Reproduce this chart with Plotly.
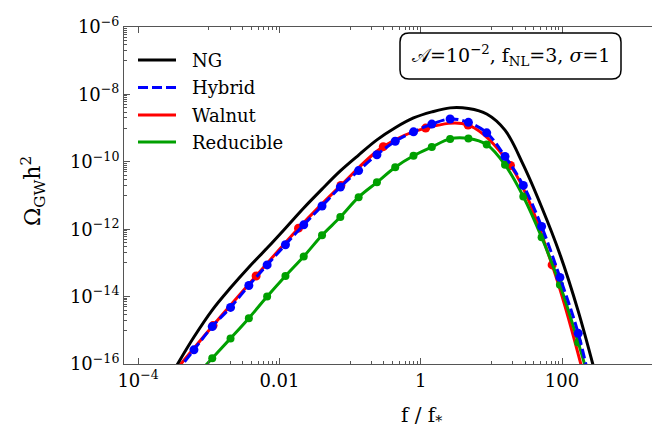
import plotly.graph_objects as go

# ---- data (log10 values) ----
log_f_grid = [-3.469, -3.21, -2.951, -2.692, -2.433, -2.174, -1.915, -1.656, -1.397, -1.138,
              -0.879, -0.62, -0.361, -0.102, 0.157, 0.416, 0.675, 0.934, 1.193, 1.452,
              1.711, 1.97, 2.229, 2.488]
log_ng = [-16.1, -15.2, -14.40, -13.74, -13.13, -12.56, -11.97, -11.37, -10.81, -10.27,
          -9.80, -9.35, -8.99, -8.70, -8.52, -8.40, -8.42, -8.58, -9.06, -10.09,
          -11.34, -12.74, -14.43, -16.42]
log_hybrid = [-16.27, -15.58, -14.89, -14.32, -13.67, -13.06, -12.46, -11.87, -11.31, -10.75,
              -10.26, -9.79, -9.39, -9.11, -8.88, -8.73, -8.83, -9.14, -9.84, -10.70,
              -11.92, -13.43, -15.09, -17.45]
log_f_red = [-3.54, -2.94, -2.33, -1.73, -1.13, -0.53, 0.07, 0.67, 1.27, 1.86, 2.46]
log_walnut = [-16.37, -14.86, -13.39, -11.97, -10.70, -9.55, -9.00, -8.91, -10.11, -13.06, -17.6]
log_f_green = log_f_grid[1:]
log_reducible = [-16.42, -15.83, -15.24, -14.64, -14.00, -13.39, -12.81, -12.18, -11.64, -11.05,
                 -10.61, -10.16, -9.82, -9.56, -9.32, -9.31, -9.49, -10.09, -11.03, -12.24,
                 -13.65, -15.36, -17.26]

x_tickvals = [1e-4, 1e-2, 1, 100]
x_ticktext = ["10<sup>\u22124</sup>", "0.01", "1", "100"]
y_exps = [-6, -8, -10, -12, -14, -16]

legend_names = ["NG", "Hybrid", "Walnut", "Reducible"]
colors = {"NG": "#000000", "Hybrid": "#0000ff", "Walnut": "#ff0000", "Reducible": "#00a000"}

def p(v):
    return [10 ** a for a in v]

FONT = "DejaVu Serif"
W, H = 660, 430
L, R, T, B = 116, 0, 19, 74
PW, PH = W - L - R, H - T - B

def px(xp):
    return (xp - L) / PW

def py(yp):
    return (H - B - yp) / PH

fig = go.Figure()
fig.add_trace(go.Scatter(x=p(log_f_red), y=p(log_walnut), mode="lines+markers",
                         line=dict(color=colors["Walnut"], width=3, shape="spline"),
                         marker=dict(size=9, color=colors["Walnut"]), showlegend=False))
fig.add_trace(go.Scatter(x=p(log_f_green), y=p(log_reducible), mode="lines+markers",
                         line=dict(color=colors["Reducible"], width=3, shape="spline"),
                         marker=dict(size=8, color=colors["Reducible"]), showlegend=False))
fig.add_trace(go.Scatter(x=p(log_f_grid), y=p(log_hybrid), mode="lines+markers",
                         line=dict(color=colors["Hybrid"], width=3, dash="10px,4px", shape="spline"),
                         marker=dict(size=9, color=colors["Hybrid"]), showlegend=False))
fig.add_trace(go.Scatter(x=p(log_f_grid), y=p(log_ng), mode="lines",
                         line=dict(color=colors["NG"], width=3, shape="spline"), showlegend=False))

x_minor = [m * 10 ** k for k in (-3, -1, 1) for m in range(1, 10)]
y_minor = [m * 10.0 ** (k - 1) for k in (-6, -8, -10, -12, -14) for m in range(1, 10)]

axis_common = dict(type="log", showgrid=False, zeroline=False, showline=True,
                   linecolor="#555555", linewidth=1, ticks="inside", ticklen=6,
                   tickcolor="#555555", tickfont=dict(family=FONT, size=18, color="black"))

fig.update_xaxes(range=[-4.2, 3.5], tickvals=x_tickvals, ticktext=x_ticktext, mirror="ticks",
                 minor=dict(tickvals=x_minor, ticks="inside", ticklen=3, tickcolor="#555555"),
                 **axis_common)
fig.update_yaxes(range=[-16, -6], tickvals=[10.0 ** e for e in y_exps],
                 ticktext=["10<sup>\u2212%d</sup>" % (-e) for e in y_exps], mirror=False,
                 minor=dict(tickvals=y_minor, ticks="inside", ticklen=3, tickcolor="#555555"),
                 **axis_common)

shapes = []
annotations = []

# legend
leg_rows = [52, 79.5, 107, 134]
for name, yr in zip(legend_names, leg_rows):
    shapes.append(dict(type="line", xref="paper", yref="paper", x0=px(130), x1=px(168),
                       y0=py(yr), y1=py(yr),
                       line=dict(color=colors[name], width=3,
                                 dash="10px,4px" if name == "Hybrid" else "solid")))
    annotations.append(dict(xref="paper", yref="paper", x=px(182), y=py(yr), text=name,
                            showarrow=False, xanchor="left", yanchor="middle",
                            font=dict(family=FONT, size=18, color="black")))

# rounded box
bx0, bx1, by0, by1, r = 392, 613, 25, 71, 9
path = ("M {a},{b} L {c},{b} Q {d},{b} {d},{e} L {d},{f} Q {d},{g} {c},{g} "
        "L {a},{g} Q {h},{g} {h},{f} L {h},{e} Q {h},{b} {a},{b} Z").format(
    a=px(bx0 + r), b=py(by0), c=px(bx1 - r), d=px(bx1), e=py(by0 + r),
    f=py(by1 - r), g=py(by1), h=px(bx0))
shapes.append(dict(type="path", xref="paper", yref="paper", path=path,
                   line=dict(color="black", width=1.5)))
annotations.append(dict(xref="paper", yref="paper", x=px(503), y=py(48),
                        text="\U0001D49C=10<sup>\u22122</sup>, f<sub>NL</sub>=3, <i>\u03c3</i>=1",
                        showarrow=False, xanchor="center", yanchor="middle",
                        font=dict(family=FONT, size=19, color="black")))

# axis titles
annotations.append(dict(xref="paper", yref="paper", x=px(413), y=py(408),
                        text="f / f<sub>*</sub>", showarrow=False,
                        xanchor="center", yanchor="middle",
                        font=dict(family=FONT, size=20, color="black")))
annotations.append(dict(xref="paper", yref="paper", x=px(25), y=py(183),
                        text="\u03a9<sub>GW</sub>h<sup>2</sup>", showarrow=False, textangle=-90,
                        xanchor="center", yanchor="middle",
                        font=dict(family=FONT, size=22, color="black")))

fig.update_layout(width=W, height=H, margin=dict(l=L, r=R, t=T, b=B),
                  paper_bgcolor="white", plot_bgcolor="white",
                  shapes=shapes, annotations=annotations, showlegend=False)

fig.write_html("out.html")
